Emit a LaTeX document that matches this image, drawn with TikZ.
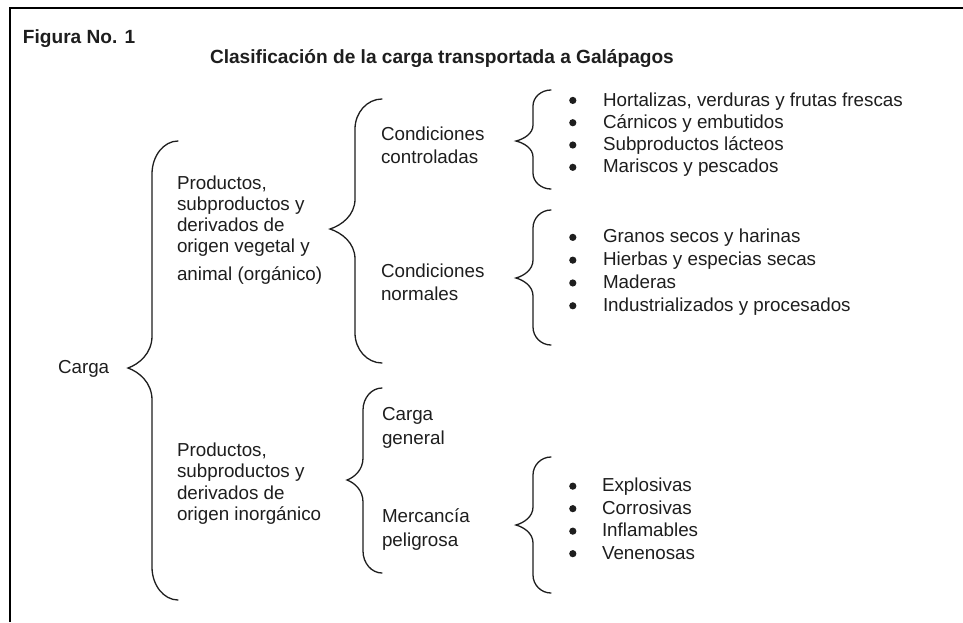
\documentclass[tikz,border=0pt]{standalone}
\usepackage{fontspec}
\setmainfont{Liberation Sans}
\definecolor{ink}{HTML}{1E1E1E}
\newcommand{\curlyb}[8]{% #1 xv, #2 xe, #3 xt, #4 ytop, #5 ytip, #6 ybot, #7 r ends, #8 r tip
  \draw[bracestyle] (#2,#4)
    .. controls ({#1+0.45*(#2-#1)},#4) and (#1,{#4+0.45*#7}) .. (#1,{#4+#7})
    -- (#1,{#5-#8})
    .. controls (#1,{#5-0.45*#8}) and ({#3+0.45*(#1-#3)},{#5-0.12*#8}) .. (#3,#5)
    .. controls ({#3+0.45*(#1-#3)},{#5+0.12*#8}) and (#1,{#5+0.45*#8}) .. (#1,{#5+#8})
    -- (#1,{#6-#7})
    .. controls (#1,{#6-0.45*#7}) and ({#1+0.45*(#2-#1)},#6) .. (#2,#6);}
\newcommand{\blt}[1]{\makebox[#1][l]{\hspace{0.2pt}\tikz[baseline=-5.6pt,x=1pt,y=1pt]\fill[ink] (0,0) circle[radius=3.6] (0,-3.6) (0,3.6);}}
\begin{document}
\begin{tikzpicture}[x=1pt,y=-1pt,
  bracestyle/.style={line width=1.3pt, draw=ink, line cap=round},
  txt/.style={inner sep=0pt, outer sep=0pt, anchor=north west, align=left, text=ink},
  single/.style={inner sep=0pt, outer sep=0pt, anchor=base west, text=ink, font=\fontsize{18.8}{22}\selectfont},
  titlestyle/.style={single, font=\fontsize{19.1}{22}\selectfont\bfseries}]
\useasboundingbox (0,0) rectangle (963,622);
\fill[white] (0,0) rectangle (963,622);
% frame
\draw[line width=2pt, draw=black] (9.5,622) -- (9.5,7.5) -- (963,7.5);
% titles
\node[titlestyle] (fig) at (23,43) {Figura No. 1};
\node[titlestyle] (title) at (210,63) {Clasificación de la carga transportada a Galápagos};
% root
\node[single] (carga) at (58,373) {Carga};
% braces
\curlyb{152}{178}{128}{141}{368}{600}{33}{32}
\curlyb{355}{382}{330}{99}{229}{363}{30}{30}
\curlyb{533}{551}{516}{90}{141}{189}{16}{16}
\curlyb{533}{551}{516}{210}{278}{345}{18}{18}
\curlyb{363}{382}{347}{388}{480}{573}{22}{22}
\curlyb{533}{551}{516}{457}{525}{593}{18}{18}
% level 1
\node[txt, font=\fontsize{18.8}{21.3}\selectfont] (org) at (177,174.1)
  {\strut Productos,\\subproductos y\\derivados de\\origen vegetal y\\[6.2pt]animal (orgánico)};
\node[txt, font=\fontsize{18.8}{21.5}\selectfont] (inorg) at (177,441)
  {\strut Productos,\\subproductos y\\derivados de\\origen inorgánico};
% level 2
\node[txt, font=\fontsize{18.8}{23}\selectfont] (ctrl) at (381,123.9)
  {\strut Condiciones\\controladas};
\node[txt, font=\fontsize{18.8}{23}\selectfont] (norm) at (381,260.9)
  {\strut Condiciones\\normales};
\node[txt, font=\fontsize{18.8}{24.5}\selectfont] (gen) at (382,402.85)
  {\strut Carga\\general};
\node[txt, font=\fontsize{18.8}{24}\selectfont] (pel) at (382,505.2)
  {\strut Mercancía\\peligrosa};
% level 3 lists
\node[txt, font=\fontsize{18.8}{22.3}\selectfont] (list1) at (569,90.4)
  {\strut\blt{34pt}Hortalizas, verduras y frutas frescas\\
   \blt{34pt}Cárnicos y embutidos\\
   \blt{34pt}Subproductos lácteos\\
   \blt{34pt}Mariscos y pescados};
\node[txt, font=\fontsize{18.8}{22.8}\selectfont] (list2) at (569,227)
  {\strut\blt{34pt}Granos secos y harinas\\
   \blt{34pt}Hierbas y especias secas\\
   \blt{34pt}Maderas\\
   \blt{34pt}Industrializados y procesados};
\node[txt, font=\fontsize{18.8}{22.5}\selectfont] (list3) at (569,476)
  {\strut\blt{33pt}Explosivas\\
   \blt{33pt}Corrosivas\\
   \blt{33pt}Inflamables\\
   \blt{33pt}Venenosas};
\end{tikzpicture}
\end{document}
